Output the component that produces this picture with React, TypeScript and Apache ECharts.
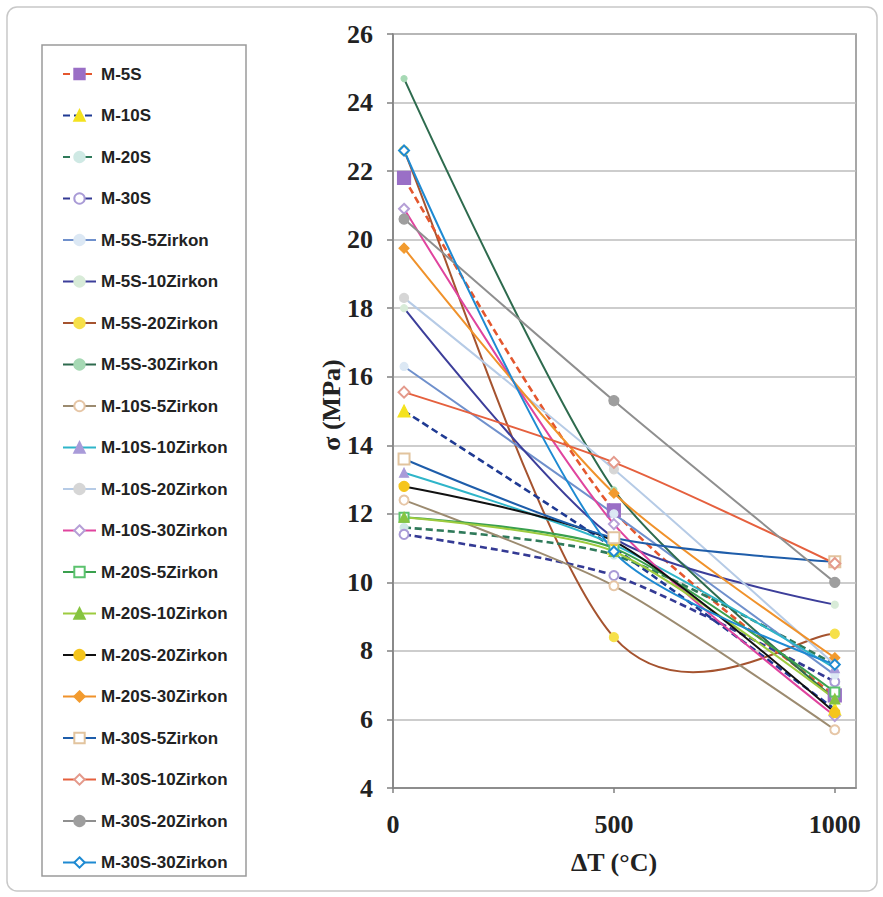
import { useEffect, useRef } from 'react';
import * as echarts from 'echarts';

// ---- data ----
const xValues = [25, 500, 1000];
const xTicks = [0, 500, 1000];
const yMin = 4;
const yMax = 26;

const seriesNames = [
  'M-5S', 'M-10S', 'M-20S', 'M-30S',
  'M-5S-5Zirkon', 'M-5S-10Zirkon', 'M-5S-20Zirkon', 'M-5S-30Zirkon',
  'M-10S-5Zirkon', 'M-10S-10Zirkon', 'M-10S-20Zirkon', 'M-10S-30Zirkon',
  'M-20S-5Zirkon', 'M-20S-10Zirkon', 'M-20S-20Zirkon', 'M-20S-30Zirkon',
  'M-30S-5Zirkon', 'M-30S-10Zirkon', 'M-30S-20Zirkon', 'M-30S-30Zirkon',
];

const m5S = [21.8, 12.1, 6.7];
const m10S = [15.0, 11.0, 6.3];
const m20S = [11.6, 10.8, 7.6];
const m30S = [11.4, 10.2, 7.1];
const m5S5Z = [16.3, 12.0, 7.3];
const m5S10Z = [18.0, 11.3, 9.35];
const m5S20Z = [22.6, 8.4, 8.5];
const m5S30Z = [24.7, 12.7, 6.6];
const m10S5Z = [12.4, 9.9, 5.7];
const m10S10Z = [13.2, 11.1, 7.5];
const m10S20Z = [18.3, 13.3, 7.6];
const m10S30Z = [20.9, 11.7, 6.1];
const m20S5Z = [11.9, 11.0, 6.8];
const m20S10Z = [11.9, 10.9, 6.6];
const m20S20Z = [12.8, 11.2, 6.2];
const m20S30Z = [19.75, 12.6, 7.8];
const m30S5Z = [13.6, 11.3, 10.6];
const m30S10Z = [15.55, 13.5, 10.55];
const m30S20Z = [20.6, 15.3, 10.0];
const m30S30Z = [22.6, 10.9, 7.6];

const seriesValues = [
  m5S, m10S, m20S, m30S,
  m5S5Z, m5S10Z, m5S20Z, m5S30Z,
  m10S5Z, m10S10Z, m10S20Z, m10S30Z,
  m20S5Z, m20S10Z, m20S20Z, m20S30Z,
  m30S5Z, m30S10Z, m30S20Z, m30S30Z,
];

type St = { line: string; dashed?: boolean; symbol: string; mark: string; size: number; excel?: boolean };
const styles: St[] = [
  { line: '#E4572E', dashed: true, symbol: 'rect', mark: '#9A6FC6', size: 13 },
  { line: '#1F3A93', dashed: true, symbol: 'triangle', mark: '#F4E21E', size: 12 },
  { line: '#2F7A5A', dashed: true, symbol: 'circle', mark: '#CFE9E4', size: 8 },
  { line: '#343A94', dashed: true, symbol: 'emptyCircle', mark: '#A99BD6', size: 9 },
  { line: '#6F90CC', symbol: 'circle', mark: '#DCE8F4', size: 8 },
  { line: '#3C3E9A', symbol: 'circle', mark: '#D8EBD8', size: 7 },
  { line: '#A5532F', symbol: 'circle', mark: '#F6E04A', size: 9, excel: true },
  { line: '#2E6B4E', symbol: 'circle', mark: '#A6D9B4', size: 6 },
  { line: '#9C8B70', symbol: 'emptyCircle', mark: '#E6C6A6', size: 9 },
  { line: '#2FB5C9', symbol: 'triangle', mark: '#A99BD9', size: 9 },
  { line: '#B6CBE6', symbol: 'circle', mark: '#D6D6D6', size: 9 },
  { line: '#E0449E', symbol: 'emptyDiamond', mark: '#B59FD6', size: 10 },
  { line: '#3AA04E', symbol: 'emptyRect', mark: '#5BC26E', size: 9 },
  { line: '#9DCB3F', symbol: 'triangle', mark: '#86C440', size: 10 },
  { line: '#111111', symbol: 'circle', mark: '#F5C51C', size: 10 },
  { line: '#F0922B', symbol: 'diamond', mark: '#F29B2F', size: 10 },
  { line: '#1E5DAA', symbol: 'emptyRect', mark: '#E2C49E', size: 11 },
  { line: '#E5603E', symbol: 'emptyDiamond', mark: '#E49A8C', size: 11 },
  { line: '#8F8F8F', symbol: 'circle', mark: '#9E9E9E', size: 10 },
  { line: '#1E8AD2', symbol: 'emptyDiamond', mark: '#1E8AD2', size: 10 },
];

// Excel-style (Catmull-Rom, 1/6) smoothed path through pixel points
function excelSmoothPath(p: number[][]): string {
  const k = 1 / 6;
  let d = `M${p[0][0]},${p[0][1]}`;
  for (let i = 0; i < p.length - 1; i++) {
    const prev = p[Math.max(i - 1, 0)];
    const a = p[i];
    const b = p[i + 1];
    const next = p[Math.min(i + 2, p.length - 1)];
    const c1x = a[0] + (b[0] - prev[0]) * k;
    const c1y = a[1] + (b[1] - prev[1]) * k;
    const c2x = b[0] - (next[0] - a[0]) * k;
    const c2y = b[1] - (next[1] - a[1]) * k;
    d += ` C${c1x},${c1y} ${c2x},${c2y} ${b[0]},${b[1]}`;
  }
  return d;
}

export default function App() {
  const ref = useRef<HTMLDivElement>(null);
  useEffect(() => {
    if (!ref.current) return;
    const chart = echarts.init(ref.current, null, { renderer: 'svg' });
    const series: any[] = [];
    seriesNames.forEach((name, i) => {
      const s = styles[i];
      const vals = seriesValues[i];
      if (s.excel) {
        series.push({
          name: name + ' (curve)',
          type: 'custom',
          silent: true,
          data: [[xValues[0], vals[0]]],
          renderItem: (_params: any, api: any) => {
            const pts = xValues.map((x, j) => api.coord([x, vals[j]]));
            return {
              type: 'path',
              shape: { pathData: excelSmoothPath(pts) },
              style: { fill: 'none', stroke: s.line, lineWidth: 2 },
            };
          },
        });
      }
      series.push({
        name,
        type: 'line',
        data: xValues.map((x, j) => [x, vals[j]]),
        symbol: s.symbol,
        symbolSize: s.size,
        smooth: s.excel ? false : 0.25,
        lineStyle: s.excel
          ? { color: s.line, width: 0 }
          : { color: s.line, width: s.dashed ? 2.6 : 2, type: s.dashed ? [7, 4] : 'solid' },
        itemStyle: { color: s.mark, borderColor: s.mark, borderWidth: 1.2 },
        emphasis: { disabled: true },
      });
    });
    const legendData = seriesNames.map((name, i) =>
      styles[i].excel ? { name, lineStyle: { width: 2, color: styles[i].line, opacity: 1 } } : name
    );
    chart.setOption({
      animation: false,
      backgroundColor: '#ffffff',
      graphic: [
        { type: 'rect', shape: { x: 7, y: 7, width: 870, height: 884, r: 10 }, style: { fill: 'none', stroke: '#C8C8C8', lineWidth: 1.5 }, silent: true },
        { type: 'rect', shape: { x: 42, y: 45, width: 204, height: 831 }, style: { fill: 'none', stroke: '#9A9A9A', lineWidth: 1.5 }, silent: true },
        {
          type: 'text', x: 331, y: 405, rotation: Math.PI / 2,
          style: { text: 'σ (MPa)', font: 'bold 26px "Liberation Serif"', align: 'center', verticalAlign: 'middle', fill: '#222' },
        },
        {
          type: 'text', x: 614, y: 862,
          style: { text: 'ΔT (°C)', font: 'bold 26px "Liberation Serif"', align: 'center', verticalAlign: 'middle', fill: '#222' },
        },
      ],
      legend: {
        orient: 'vertical', left: 57, top: 59,
        itemWidth: 33, itemHeight: 13, itemGap: 21.5,
        selectedMode: false,
        textStyle: { fontFamily: 'Liberation Sans', fontWeight: 'bold', fontSize: 17, color: '#222', lineHeight: 20 },
        data: legendData,
      },
      grid: { left: 393, top: 34, width: 463, height: 754, show: true, borderColor: '#8A8A8A', borderWidth: 1.5, backgroundColor: 'transparent' },
      xAxis: {
        type: 'value', min: 0, max: 1048,
        splitLine: { show: false },
        axisLine: { show: true, onZero: false, lineStyle: { color: '#808080', width: 1.5 } },
        axisTick: { show: true, inside: false, length: 5, customValues: xTicks, lineStyle: { color: '#808080', width: 1.5 } },
        axisLabel: {
          customValues: xTicks,
          formatter: (v: number) => (v % 500 === 0 ? String(v) : ''),
          fontFamily: 'Liberation Serif', fontWeight: 'bold', fontSize: 26, color: '#222', margin: 23,
        },
      },
      yAxis: {
        type: 'value', min: yMin, max: yMax, interval: 2,
        axisLine: { show: true, onZero: false, lineStyle: { color: '#808080', width: 1.5 } },
        axisTick: { show: true, inside: false, length: 6, lineStyle: { color: '#808080', width: 1.5 } },
        splitLine: { show: true, lineStyle: { color: '#BDBDBD', width: 1.5 } },
        axisLabel: { fontFamily: 'Liberation Serif', fontWeight: 'bold', fontSize: 26, color: '#222', margin: 20 },
      },
      series,
    });
    return () => chart.dispose();
  }, []);
  return <div ref={ref} style={{ position: 'fixed', left: 0, top: 0, width: 883, height: 897 }} />;
}
